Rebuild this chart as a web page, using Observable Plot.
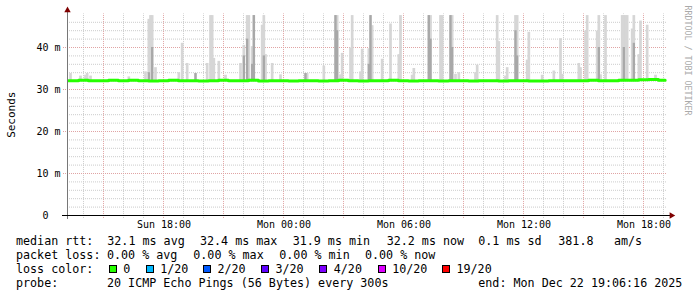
<!DOCTYPE html>
<html><head><meta charset="utf-8">
<script src="https://cdn.jsdelivr.net/npm/d3@7"></script>
<script src="https://cdn.jsdelivr.net/npm/@observablehq/plot@0.6"></script>
<style>
html,body{margin:0;padding:0;background:#fff;}
#wrap{position:relative;width:697px;height:297px;overflow:hidden;background:#fff;}
#wrap svg{position:absolute;left:0;top:0;}
.lg{position:absolute;font-family:"DejaVu Sans Mono",monospace;font-size:11.7px;line-height:14px;white-space:pre;color:#000;}
.box{position:absolute;width:8px;height:8px;box-sizing:border-box;border:1px solid #000;}
</style></head><body><div id="wrap"></div>
<script>
// ---------- data ----------
const rangeStart = "21 13:12";
const rangeEnd = "22 19:12";
const dataEnd = "22 19:05";

// median rtt (ms), one value every 30 minutes starting at medianStart
const medianStart = "21 13:15";
const medianValues = [
  32.1,32.2,32.1,32.1,32.2,32.1,32.2,32.1,32.0,32.1,32.2,32.1,
  32.1,32.0,32.1,32.2,32.1,32.1,32.2,32.0,32.1,32.1,32.0,32.1,
  32.1,32.0,32.1,32.2,32.1,32.0,32.1,32.1,32.2,32.1,32.0,32.1,
  32.1,32.0,32.1,32.1,32.0,32.1,32.1,32.0,32.1,32.1,32.0,32.0,
  32.1,32.1,32.1,32.1,32.2,32.1,32.1,32.2,32.2,32.3,32.4,32.2
];

// smoke (ping spread) per 5-minute step: time, highest ping, upper edge of dense part
const smokeLow = 31.9;
const smokeTimes = [
  "21 13:20","21 13:50","21 14:05","21 14:10","21 14:20","21 16:15","21 17:05","21 17:15","21 17:20","21 17:25",
  "21 17:35","21 18:45","21 18:55","21 19:10","21 19:35","21 20:10","21 20:20","21 20:25","21 20:30","21 20:45",
  "21 21:05","21 21:50","21 22:00","21 22:10","21 22:15","21 22:25","21 22:30","21 22:55","21 23:00","21 23:05",
  "21 23:25","21 23:50","22 01:05","22 01:10","22 02:00","22 02:35","22 02:40","22 02:50","22 02:55","22 03:20",
  "22 03:25","22 03:50","22 03:55","22 04:15","22 04:20","22 04:25","22 04:55","22 05:20","22 05:45","22 05:50",
  "22 06:25","22 06:30","22 07:15","22 07:20","22 07:50","22 07:55","22 08:20","22 08:25","22 08:35","22 08:45",
  "22 09:35","22 09:40","22 10:40","22 10:45","22 11:05","22 11:10","22 11:35","22 11:40","22 12:10","22 12:15",
  "22 12:55","22 13:30","22 13:50","22 13:55","22 14:45","22 14:50","22 15:05","22 15:10","22 15:40","22 15:45",
  "22 15:50","22 16:05","22 16:55","22 17:00","22 17:05","22 17:10","22 17:25","22 17:30","22 17:45","22 17:50",
  "22 18:10","22 18:35"
];
const smokeHigh = [
  33.8,33.2,33.4,33.8,33.2,33.0,34.2,46.7,47.6,47.6,
  35.2,34.0,41.0,36.2,33.8,36.2,47.6,47.6,37.4,36.7,
  33.4,36.2,40.5,47.6,47.6,40.2,47.6,45.3,47.6,38.3,
  36.2,33.5,33.8,33.8,35.6,47.6,47.6,33.5,38.6,39.9,
  47.6,34.2,39.6,39.7,47.6,45.2,37.2,45.6,38.3,47.6,
  33.4,35.0,47.6,47.6,47.6,47.6,47.6,47.6,33.6,34.0,
  34.0,35.8,47.6,41.4,33.2,35.2,47.6,47.6,37.0,43.6,
  33.4,34.4,42.1,33.6,36.2,35.2,43.9,47.6,43.9,47.6,
  33.5,47.6,47.6,47.6,47.6,47.6,44.4,47.6,38.3,46.3,
  45.3,33.4
];
const smokeMid = [
  0,0,0,0,0,0,0,34.0,0,40.0,
  0,0,0,0,33.8,0,0,0,0,0,
  0,0,38.0,42.0,0,36.0,47.6,0,38.0,0,
  0,0,33.8,0,0,47.6,44.0,0,0,0,
  0,0,0,36.0,47.6,0,0,0,0,0,
  0,0,47.6,42.0,0,0,47.6,40.0,0,0,
  0,0,0,0,0,0,44.0,38.0,0,0,
  0,0,0,0,0,0,0,0,0,40.0,
  0,0,0,40.0,0,0,0,41.0,0,0,
  0,0
];

const yTicks = [0,10,20,30,40];
const yMinorGrid = [2,4,6,8,12,14,16,18,22,24,26,28,32,34,36,38,42,44,46];
const yMajorGrid = [10,20,30,40];
const xLabelTimes = ["21 18:00","22 00:00","22 06:00","22 12:00","22 18:00"];

const statsRtt = [["median rtt:",16],["32.1 ms avg",107.3],["32.4 ms max",200],["31.9 ms min",292.7],["32.2 ms now",386.7],["0.1 ms sd",478.3],["381.8",558.3],["am/s",614]];
const statsLoss = [["packet loss:",16],["0.00 % avg",107],["0.00 % max",193.3],["0.00 % min",279.3],["0.00 % now",365]];
const lossLabels = ["0","1/20","2/20","3/20","4/20","10/20","19/20"];
const lossColors = ["#26ff00","#00b8ff","#0059ff","#5e00ff","#7e00ff","#dd00ff","#ff0000"];
const lossBoxX = [108.7,145.7,203,261,319.3,377.7,442];
const probeRow = [["probe:",16],["20 ICMP Echo Pings (56 Bytes) every 300s",107],["end: Mon Dec 22 19:06:16 2025",478.3]];

// ---------- build ----------
const T = s => { const [d, hm] = s.split(" "); const [h, m] = hm.split(":").map(Number); return new Date(Date.UTC(2025, 11, +d, h, m)); };
const STEP = 5 * 60e3;
const x0 = T(rangeStart), x1 = T(rangeEnd);

const smoke = smokeTimes.map((s, i) => ({t: T(s), t2: new Date(+T(s) + STEP), lo: smokeLow, hi: smokeHigh[i], mid: smokeMid[i]}));
const smokeDense = smoke.filter(d => d.mid > d.lo);
const median = medianValues.map((v, i) => ({t: new Date(+T(medianStart) + i * 30 * 60e3), v}));
median.push({t: T(dataEnd), v: medianValues[medianValues.length - 1]});

const hours = d3.utcHour.range(T("21 14:00"), T("22 19:01"));
const hourMinor = hours.filter(d => d.getUTCHours() % 3 !== 0);
const hourMajor = hours.filter(d => d.getUTCHours() % 3 === 0);
const fmtX = d3.utcFormat("%a %H:%M");
const fmtY = v => v === 0 ? "0\u00a0\u00a0" : `${v} m`;

const chart = Plot.plot({
  width: 697, height: 232,
  marginLeft: 67, marginRight: 30, marginTop: 13.4, marginBottom: 17,
  style: {fontFamily: "DejaVu Sans Mono", fontSize: "10px", background: "#fff", overflow: "visible"},
  x: {type: "utc", domain: [x0, x1], axis: null},
  y: {domain: [0, 48], axis: null},
  marks: [
    Plot.ruleY(yMinorGrid, {stroke: "#cccccc", strokeDasharray: "1,1"}),
    Plot.ruleX(hourMinor, {y1: -0.7, y2: 48, stroke: "#cccccc", strokeDasharray: "1,1"}),
    Plot.ruleY(yMajorGrid, {x1: T("21 13:00"), x2: x1, stroke: "#e0a4a4", strokeDasharray: "1,1"}),
    Plot.ruleX(hourMajor, {y1: -0.7, y2: 48, stroke: "#e0a4a4", strokeDasharray: "1,1"}),
    Plot.rect(smoke, {x1: "t", x2: "t2", y1: "lo", y2: "hi", fill: "#d6d6d6", insetLeft: -0.5, insetRight: -0.5}),
    Plot.rect(smokeDense, {x1: "t", x2: "t2", y1: "lo", y2: "mid", fill: "#a8a8a8", insetLeft: -0.3, insetRight: -0.3}),
    Plot.line(median, {x: "t", y: "v", stroke: "#26ff00", strokeWidth: 3, curve: "step-after"}),
    Plot.ruleX([x0], {y1: -0.95, y2: 48.6, stroke: "#777"}),
    Plot.ruleY([0], {x1: T("21 12:57"), x2: T("22 19:21"), stroke: "#000"}),
    Plot.dot([{x: x1, y: 0}], {x: "x", y: "y", dx: 4, symbol: "triangle", rotate: 90, r: 2.4, fill: "#7f0000", stroke: "none"}),
    Plot.dot([{x: x0, y: 48}], {x: "x", y: "y", dy: -3.6, symbol: "triangle", r: 2.4, fill: "#7f0000", stroke: "none"}),
    Plot.text(yTicks, {x: () => x0, y: d => d, text: fmtY, textAnchor: "end", lineAnchor: "middle", dx: -7, fontSize: 10, fill: "#000"}),
    Plot.text(xLabelTimes.map(T), {x: d => d, y: () => 0, text: fmtX, textAnchor: "middle", lineAnchor: "bottom", dy: 12, dx: 0.5, fontSize: 10, fill: "#000"}),
    Plot.text(["Seconds"], {frameAnchor: "left", dx: -56, rotate: -90, textAnchor: "middle", lineAnchor: "middle", fontSize: 11, fill: "#000"}),
    Plot.text(["RRDTOOL / TOBI OETIKER"], {frameAnchor: "top-right", dx: 20, dy: -8.4, rotate: 90, textAnchor: "start", lineAnchor: "middle", fontSize: 8.3, fill: "#aaa"})
  ]
});

const wrap = document.getElementById("wrap");
wrap.appendChild(chart);

function addText(txt, left, top) {
  const el = document.createElement("div");
  el.className = "lg"; el.textContent = txt;
  el.style.left = left + "px"; el.style.top = top + "px";
  wrap.appendChild(el);
}
const rowTop = [234, 248, 262, 276];
statsRtt.forEach(([t, x]) => addText(t, x, rowTop[0]));
statsLoss.forEach(([t, x]) => addText(t, x, rowTop[1]));
addText("loss color:", 16, rowTop[2]);
lossLabels.forEach((lab, i) => {
  const b = document.createElement("div");
  b.className = "box"; b.style.background = lossColors[i];
  b.style.left = lossBoxX[i] + "px"; b.style.top = "265px";
  wrap.appendChild(b);
  addText(lab, lossBoxX[i] + 14.5, rowTop[2]);
});
probeRow.forEach(([t, x]) => addText(t, x, rowTop[3]));
</script>
</body></html>
